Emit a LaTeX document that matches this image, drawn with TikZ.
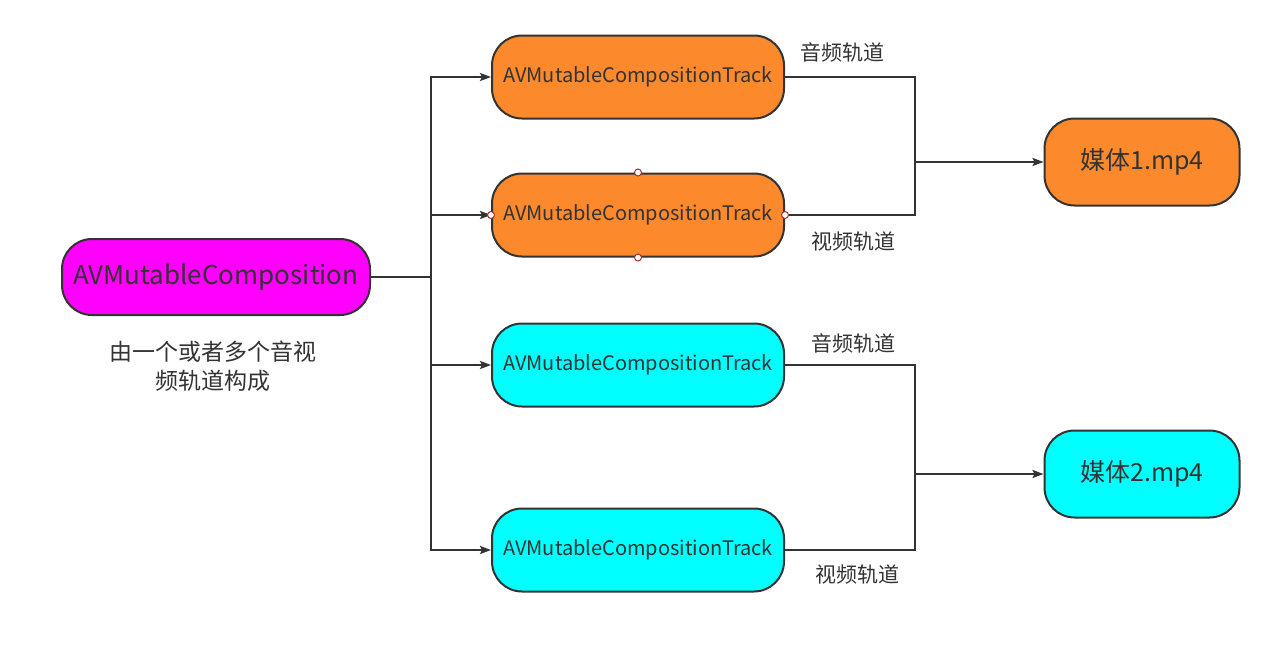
\documentclass[tikz,border=0pt]{standalone}
\usepackage{fontspec}
\setmainfont{Noto Sans CJK SC}
\usetikzlibrary{arrows.meta}
\definecolor{lineC}{HTML}{333333}
\definecolor{orangeC}{HTML}{FC8A2C}
\definecolor{magC}{HTML}{FF00FF}
\definecolor{cyanC}{HTML}{00FFFF}
\definecolor{handleC}{HTML}{A03030}
\tikzset{
  box/.style={draw=lineC, line width=2pt, rounded corners=30pt, inner sep=0pt, text=lineC},
  trackbox/.style={box, minimum width=292pt, minimum height=83pt, font=\fontsize{20pt}{22pt}\selectfont},
  mediabox/.style={box, minimum width=195pt, minimum height=87pt, font=\fontsize{25pt}{28pt}\selectfont},
  lbl/.style={text=lineC, font=\fontsize{21pt}{24pt}\selectfont, inner sep=0pt},
  conn/.style={draw=lineC, line width=2pt},
  arr/.style={conn, -{Stealth[length=11pt,width=8pt,inset=2pt]}},
  handle/.style={circle, draw=handleC, fill=white, line width=1pt, minimum size=7pt, inner sep=0pt},
}
\begin{document}
\begin{tikzpicture}[x=1pt,y=-1pt]
\useasboundingbox[fill=white] (0,0) rectangle (1280,670);
\node[box, fill=magC, minimum width=308pt, minimum height=76pt, font=\fontsize{26pt}{29pt}\selectfont] (c) at (216,277) {AVMutableComposition};
\node[lbl, align=center, font=\fontsize{23pt}{29pt}\selectfont] (desc) at (213,366) {由一个或者多个音视\\频轨道构成};
\node[trackbox, fill=orangeC] (t1) at (638,77) {AVMutableCompositionTrack};
\node[trackbox, fill=orangeC] (t2) at (638,215) {AVMutableCompositionTrack};
\node[trackbox, fill=cyanC] (t3) at (638,365) {AVMutableCompositionTrack};
\node[trackbox, fill=cyanC] (t4) at (638,550) {AVMutableCompositionTrack};
\node[mediabox, fill=orangeC] (m1) at (1142,162) {媒体1.mp4};
\node[mediabox, fill=cyanC] (m2) at (1142,474) {媒体2.mp4};
\node[lbl] (l1) at (842,52) {音频轨道};
\node[lbl] (l2) at (853,242) {视频轨道};
\node[lbl] (l3) at (853,343) {音频轨道};
\node[lbl] (l4) at (857,575) {视频轨道};
\coordinate (b) at (431,277);
\coordinate (j1) at (915,162);
\coordinate (j2) at (915,474);
\draw[conn] (c.east) -- (b);
\draw[arr] (b) |- (t1.west);
\draw[arr] (b) |- (t2.west);
\draw[arr] (b) |- (t3.west);
\draw[arr] (b) |- (t4.west);
\draw[conn] (t1.east) -| (j1);
\draw[conn] (t2.east) -| (j1);
\draw[arr] (j1) -- (m1.west);
\draw[conn] (t3.east) -| (j2);
\draw[conn] (t4.east) -| (j2);
\draw[arr] (j2) -- (m2.west);
\node[handle] (h1) at (t2.north) {};
\node[handle] (h2) at (t2.south) {};
\node[handle] (h3) at (t2.west) {};
\node[handle] (h4) at (t2.east) {};
\end{tikzpicture}
\end{document}
